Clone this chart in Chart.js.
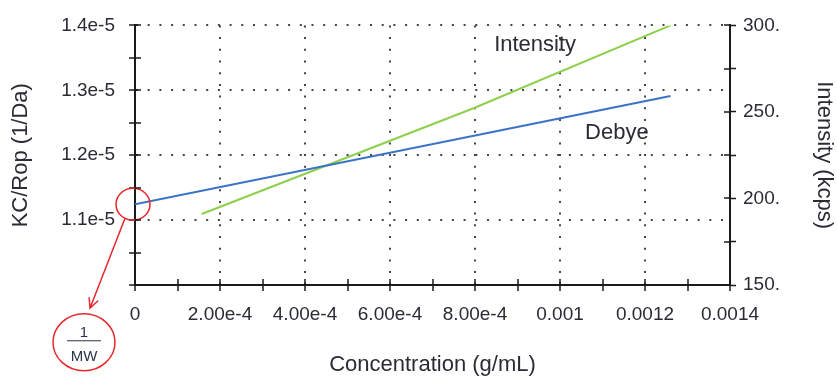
<!DOCTYPE html>
<html>
<head>
<meta charset="utf-8">
<script src="https://cdn.jsdelivr.net/npm/chart.js@4.4.1/dist/chart.umd.min.js"></script>
<style>
  html, body { margin: 0; padding: 0; background: #fff; }
  canvas { display: block; }
</style>
</head>
<body>
<canvas id="chart" width="837" height="378"></canvas>
<script>
// Debye line: KC/Rop vs concentration (left axis)
const debyeConc = [0, 0.00126];
const debyeKC = [1.1244e-5, 1.2911e-5];

// scattered intensity vs concentration (right axis)
const intensityConc = [0.000157, 0.000795, 0.00126];
const intensityKcps = [191, 252, 300];

// tick labels (major ticks only, minor ticks get no text)
const xTickLabels = ['0', '2.00e-4', '4.00e-4', '6.00e-4', '8.00e-4', '0.001', '0.0012', '0.0014'];
const leftTickLabels = ['', '1.1e-5', '1.2e-5', '1.3e-5', '1.4e-5'];
const rightTickLabels = ['150.', '200.', '250.', '300.'];

const FONT = '"Liberation Sans", Arial, sans-serif';
const INK = '#2b2b33';
const AXIS = '#1a1a1a';
const RED = '#e8262b';

Chart.defaults.font.family = FONT;
Chart.defaults.color = INK;

function toPoints(xs, ys) {
    return xs.map((v, i) => ({ x: v, y: ys[i] }));
}

// short tick marks on the inside of each axis
const innerTicks = {
    id: 'innerTicks',
    afterDraw(chart) {
        const { ctx, chartArea: a, scales } = chart;
        ctx.save();
        ctx.strokeStyle = AXIS;
        ctx.lineWidth = 1.5;
        ctx.beginPath();
        scales.x.ticks.forEach(t => {
            const px = Math.round(scales.x.getPixelForValue(t.value));
            ctx.moveTo(px, a.bottom);
            ctx.lineTo(px, a.bottom - 6);
        });
        scales.y.ticks.forEach(t => {
            const py = Math.round(scales.y.getPixelForValue(t.value));
            ctx.moveTo(a.left, py);
            ctx.lineTo(a.left + 6, py);
        });
        scales.y1.ticks.forEach(t => {
            const py = Math.round(scales.y1.getPixelForValue(t.value));
            ctx.moveTo(a.right, py);
            ctx.lineTo(a.right - 6, py);
        });
        ctx.stroke();
        ctx.restore();
    }
};

// line names and the red 1/MW callout at the intercept
const notes = {
    id: 'notes',
    afterDatasetsDraw(chart) {
        const { ctx, scales: { x, y } } = chart;
        ctx.save();
        ctx.font = '22px ' + FONT;
        ctx.fillStyle = INK;
        ctx.textBaseline = 'alphabetic';
        ctx.textAlign = 'left';
        ctx.fillText('Intensity', x.getPixelForValue(0.000845), y.getPixelForValue(1.3598e-5));
        ctx.fillText('Debye', x.getPixelForValue(0.001059), y.getPixelForValue(1.2244e-5));

        const cx = x.getPixelForValue(debyeConc[0]) - 2;
        const cy = y.getPixelForValue(debyeKC[0]);
        ctx.strokeStyle = RED;
        ctx.lineWidth = 1.5;
        ctx.beginPath();
        ctx.ellipse(cx, cy, 17, 16, 0, 0, Math.PI * 2);
        ctx.stroke();

        // arrow
        const sx = cx - 8, sy = cy + 14;
        const tx = cx - 43, ty = cy + 104;
        const ang = Math.atan2(ty - sy, tx - sx);
        ctx.beginPath();
        ctx.moveTo(sx, sy);
        ctx.lineTo(tx, ty);
        ctx.moveTo(tx - 11 * Math.cos(ang - 0.45), ty - 11 * Math.sin(ang - 0.45));
        ctx.lineTo(tx, ty);
        ctx.lineTo(tx - 11 * Math.cos(ang + 0.45), ty - 11 * Math.sin(ang + 0.45));
        ctx.stroke();

        // bubble with 1/MW
        const bx = cx - 49, by = cy + 138;
        ctx.beginPath();
        ctx.ellipse(bx, by, 31, 28.5, 0, 0, Math.PI * 2);
        ctx.stroke();
        ctx.fillStyle = '#2a3348';
        ctx.font = '15px ' + FONT;
        ctx.textAlign = 'center';
        ctx.textBaseline = 'middle';
        ctx.fillText('1', bx, by - 9.5);
        ctx.fillText('MW', bx, by + 15);
        ctx.strokeStyle = '#2a3348';
        ctx.lineWidth = 1.2;
        ctx.beginPath();
        ctx.moveTo(bx - 17, by - 1.5);
        ctx.lineTo(bx + 17, by - 1.5);
        ctx.stroke();
        ctx.restore();
    }
};

new Chart(document.getElementById('chart'), {
    type: 'scatter',
    data: {
        datasets: [
            {
                label: 'Debye',
                data: toPoints(debyeConc, debyeKC),
                yAxisID: 'y',
                showLine: true,
                borderColor: '#3a73c6',
                borderWidth: 2,
                pointRadius: 0
            },
            {
                label: 'Intensity',
                data: toPoints(intensityConc, intensityKcps),
                yAxisID: 'y1',
                showLine: true,
                borderColor: '#8ed04c',
                borderWidth: 2,
                pointRadius: 0
            }
        ]
    },
    options: {
        responsive: false,
        animation: false,
        layout: { padding: { top: 23, left: 0, right: 0, bottom: 0 } },
        plugins: {
            legend: { display: false },
            tooltip: { enabled: false }
        },
        scales: {
            x: {
                type: 'linear',
                min: 0,
                max: 0.0014,
                afterFit: s => { s.height = 93; },
                ticks: {
                    stepSize: 0.0001,
                    autoSkip: false,
                    maxRotation: 0,
                    padding: 12,
                    font: { size: 19 },
                    color: INK,
                    callback: (v, i) => i % 2 === 0 ? xTickLabels[i / 2] : ''
                },
                grid: {
                    color: c => (c.index % 2 === 0 && c.index > 0 && c.index < 14) ? '#444' : 'rgba(0,0,0,0)',
                    lineWidth: 2,
                    tickColor: AXIS,
                    tickWidth: 1.5,
                    tickLength: 6
                },
                border: { display: true, color: AXIS, width: 2, dash: [2, 9.7] },
                title: {
                    display: true,
                    text: 'Concentration (g/mL)',
                    font: { size: 22 },
                    color: INK,
                    padding: { top: 0, bottom: 0 }
                }
            },
            y: {
                type: 'linear',
                position: 'left',
                min: 1.0e-5,
                max: 1.4e-5,
                afterFit: s => { s.width = 135; },
                ticks: {
                    stepSize: 5e-7,
                    autoSkip: false,
                    padding: 14,
                    font: { size: 19 },
                    color: INK,
                    callback: (v, i) => i % 2 === 0 ? leftTickLabels[i / 2] : ''
                },
                grid: {
                    color: c => (c.index % 2 === 0 && c.index > 0) ? '#444' : 'rgba(0,0,0,0)',
                    lineWidth: 2,
                    tickColor: AXIS,
                    tickWidth: 1.5,
                    tickLength: 6
                },
                border: { display: true, color: AXIS, width: 2, dash: [2, 9.7] },
                title: {
                    display: true,
                    text: 'KC/Rop (1/Da)',
                    font: { size: 22 },
                    color: INK,
                    padding: { top: 8, bottom: 0 }
                }
            },
            y1: {
                type: 'linear',
                position: 'right',
                min: 150,
                max: 300,
                afterFit: s => { s.width = 107; },
                ticks: {
                    stepSize: 25,
                    autoSkip: false,
                    padding: 7,
                    font: { size: 19 },
                    color: INK,
                    callback: (v, i) => i % 2 === 0 ? rightTickLabels[i / 2] : ''
                },
                grid: {
                    drawOnChartArea: false,
                    tickColor: AXIS,
                    tickWidth: 1.5,
                    tickLength: 6
                },
                border: { display: true, color: AXIS, width: 2 },
                title: {
                    display: true,
                    text: 'Intensity (kcps)',
                    font: { size: 22 },
                    color: INK,
                    padding: { top: 0, bottom: 0 }
                }
            }
        }
    },
    plugins: [innerTicks, notes]
});
</script>
</body>
</html>
